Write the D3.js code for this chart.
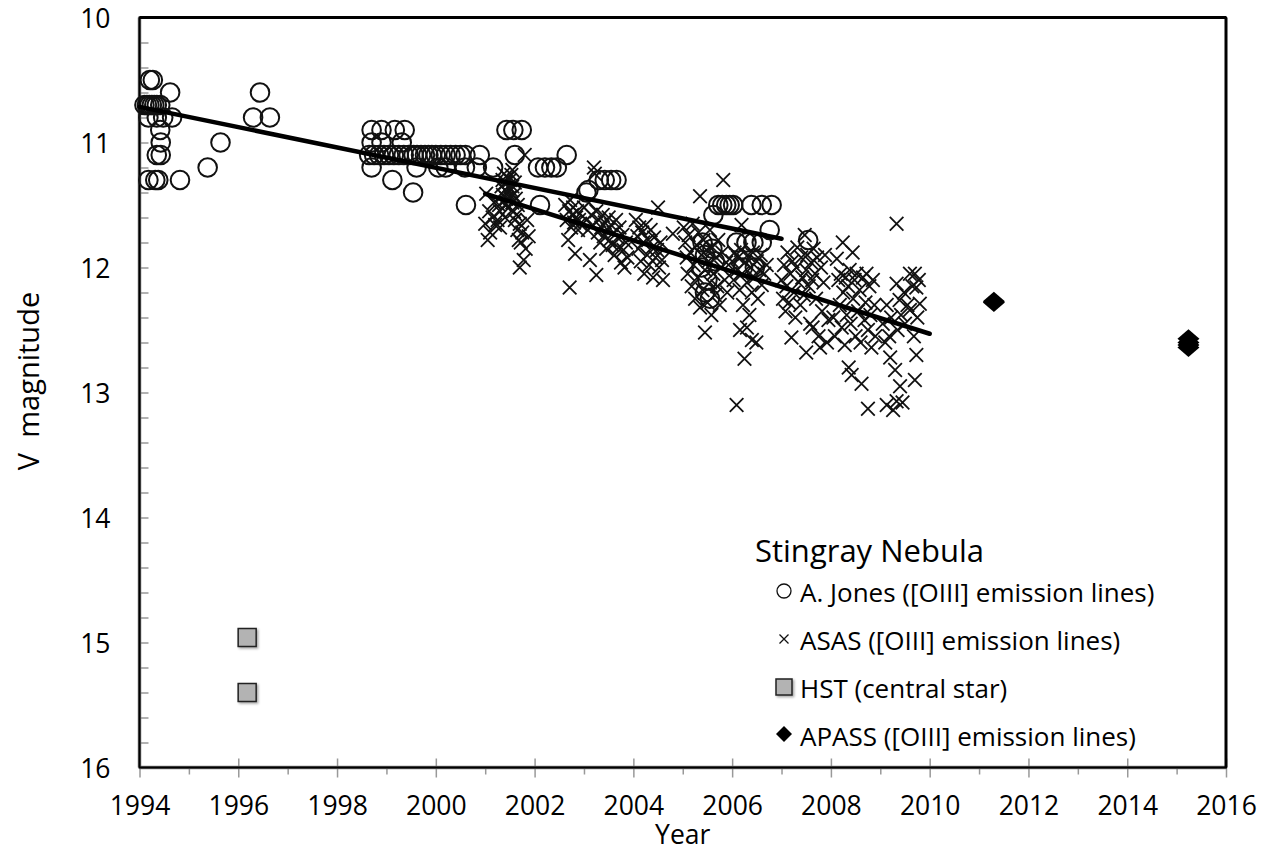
<!DOCTYPE html>
<html lang="en">

<head>
    <meta charset="utf-8">
    <title>Stingray Nebula</title>
    <script src="https://d3js.org/d3.v7.min.js"></script>
</head>
<style type="text/css">
    body {
        margin: 0;
        background: #fff;
    }

    svg text {
        font-family: "Open Sans", "Noto Sans", sans-serif;
        fill: #000;
    }

    .axis path {
        display: none;
    }

    .axis line {
        stroke: #999;
        stroke-width: 1.5px;
    }

    .axis text {
        font-size: 26.5px;
    }

    .jones {
        fill: none;
        stroke: #111;
        stroke-width: 2px;
    }

    .asas {
        stroke: #111;
        stroke-width: 1.8px;
        fill: none;
    }

    .hst {
        fill: #b3b3b3;
        stroke: #222;
        stroke-width: 1.5px;
    }

    .apass {
        fill: #000;
    }

    .trend {
        stroke: #000;
        stroke-width: 4.5px;
        stroke-linecap: round;
    }
</style>

<body>
    <script>
        // data: [year, V magnitude]
        var jonesData = [
            [1994.21, 10.50], [1994.27, 10.50],
            [1994.10, 10.70], [1994.15, 10.70], [1994.20, 10.70], [1994.25, 10.70], [1994.30, 10.70], [1994.35, 10.70], [1994.42, 10.70],
            [1994.62, 10.60],
            [1994.18, 10.80], [1994.35, 10.80], [1994.48, 10.80], [1994.66, 10.80],
            [1994.42, 10.90], [1994.43, 11.00], [1994.35, 11.10], [1994.43, 11.10],
            [1994.18, 11.30], [1994.32, 11.30], [1994.38, 11.30], [1994.82, 11.30],
            [1995.38, 11.20], [1995.64, 11.00],
            [1996.30, 10.80], [1996.44, 10.60], [1996.64, 10.80],
            [1998.70, 10.90], [1998.90, 10.90], [1999.17, 10.90], [1999.37, 10.90],
            [1998.70, 11.00], [1998.90, 11.00], [1999.31, 11.00],
            [1998.65, 11.10], [1998.75, 11.10], [1998.85, 11.10], [1998.95, 11.10], [1999.05, 11.10],
            [1999.15, 11.10], [1999.25, 11.10], [1999.35, 11.10], [1999.45, 11.10], [1999.55, 11.10],
            [1999.62, 11.10], [1999.70, 11.10], [1999.78, 11.10], [1999.85, 11.10], [1999.92, 11.10],
            [2000.00, 11.10], [2000.10, 11.10], [2000.20, 11.10], [2000.30, 11.10], [2000.40, 11.10],
            [2000.50, 11.10], [2000.60, 11.10], [2000.89, 11.10],
            [1998.70, 11.20], [1999.61, 11.20], [2000.05, 11.20], [2000.20, 11.20], [2000.59, 11.20],
            [2000.83, 11.20], [2001.16, 11.20],
            [1999.12, 11.30], [1999.54, 11.40], [2000.61, 11.50],
            [2001.43, 10.90], [2001.57, 10.90], [2001.74, 10.90],
            [2001.60, 11.10], [2002.65, 11.10],
            [2002.07, 11.20], [2002.21, 11.20], [2002.34, 11.20], [2002.45, 11.20],
            [2002.11, 11.50],
            [2003.05, 11.40], [2003.09, 11.38], [2003.30, 11.30], [2003.42, 11.30], [2003.55, 11.30], [2003.66, 11.30],
            [2005.40, 11.80], [2005.45, 11.90], [2005.38, 12.00], [2005.50, 12.10], [2005.45, 12.20],
            [2005.55, 12.25], [2005.60, 11.85], [2005.65, 11.95], [2005.62, 11.58],
            [2005.72, 11.50], [2005.80, 11.50], [2005.88, 11.50], [2005.95, 11.50], [2006.02, 11.50],
            [2006.39, 11.50], [2006.60, 11.50], [2006.80, 11.50],
            [2006.76, 11.70],
            [2006.09, 11.80], [2006.29, 11.80], [2006.43, 11.80], [2006.60, 11.80],
            [2006.22, 12.00], [2006.46, 12.00],
            [2007.54, 11.78]
        ];

        var asasData = [
            // 2001
            [2001.00, 11.65], [2001.02, 11.41], [2001.05, 11.78], [2001.08, 11.55], [2001.10, 11.72],
            [2001.15, 11.60], [2001.18, 11.48], [2001.20, 11.66], [2001.25, 11.62], [2001.28, 11.50],
            [2001.30, 11.68], [2001.33, 11.35], [2001.35, 11.30], [2001.36, 11.42], [2001.38, 11.25],
            [2001.40, 11.38], [2001.40, 11.50], [2001.42, 11.32], [2001.43, 11.45], [2001.45, 11.28],
            [2001.45, 11.40], [2001.47, 11.35], [2001.48, 11.52], [2001.50, 11.30], [2001.50, 11.44],
            [2001.52, 11.38], [2001.53, 11.26], [2001.55, 11.48], [2001.55, 11.35], [2001.57, 11.42],
            [2001.58, 11.55], [2001.60, 11.32], [2001.60, 11.62], [2001.62, 11.45], [2001.63, 11.58],
            [2001.65, 11.70], [2001.66, 11.50], [2001.68, 11.78], [2001.70, 11.65], [2001.70, 12.00],
            [2001.72, 11.80], [2001.75, 11.72], [2001.78, 11.94], [2001.80, 11.10], [2001.82, 11.85],
            [2001.85, 11.62], [2001.88, 11.75], [2001.55, 11.22], [2001.40, 11.60], [2001.30, 11.55],
            // 2002
            [2002.62, 11.50], [2002.65, 11.62], [2002.68, 11.78], [2002.70, 11.55], [2002.71, 12.16],
            [2002.72, 11.46], [2002.74, 11.68], [2002.76, 11.58], [2002.78, 11.52], [2002.80, 11.64],
            [2002.82, 11.89], [2002.84, 11.60], [2002.86, 11.55], [2002.88, 11.70], [2002.90, 11.62],
            [2002.92, 11.65],
            // 2003
            [2003.00, 11.52], [2003.05, 11.62], [2003.08, 11.70], [2003.10, 11.48], [2003.12, 11.94],
            [2003.15, 11.58], [2003.18, 11.66], [2003.20, 11.20], [2003.22, 11.25], [2003.25, 12.06],
            [2003.25, 11.55], [2003.28, 11.72], [2003.30, 11.62], [2003.33, 11.80], [2003.35, 11.68],
            [2003.38, 11.58], [2003.40, 11.75], [2003.42, 11.64], [2003.45, 11.85], [2003.48, 11.70],
            [2003.50, 11.60], [2003.52, 11.78], [2003.55, 11.66], [2003.58, 11.82], [2003.60, 11.72],
            [2003.62, 11.90], [2003.65, 11.62], [2003.68, 11.76], [2003.70, 11.84], [2003.72, 11.68],
            [2003.75, 11.96], [2003.78, 11.74], [2003.80, 11.86], [2003.82, 12.00], [2003.85, 11.80],
            [2003.88, 11.92],
            // 2004
            [2004.05, 11.62], [2004.08, 11.75], [2004.10, 11.85], [2004.12, 11.68], [2004.15, 11.95],
            [2004.18, 11.72], [2004.20, 11.80], [2004.22, 12.05], [2004.25, 11.66], [2004.28, 11.90],
            [2004.30, 11.78], [2004.32, 11.98], [2004.35, 11.70], [2004.38, 11.84], [2004.40, 12.08],
            [2004.42, 11.76], [2004.45, 11.92], [2004.48, 11.86], [2004.50, 11.52], [2004.52, 12.00],
            [2004.55, 11.80], [2004.58, 11.94], [2004.60, 12.10], [2004.80, 11.73],
            // 2005
            [2005.02, 11.68], [2005.05, 11.80], [2005.08, 11.92], [2005.10, 12.05], [2005.12, 11.74],
            [2005.15, 11.88], [2005.18, 12.15], [2005.20, 11.65], [2005.22, 11.98], [2005.25, 12.25],
            [2005.28, 11.82], [2005.30, 12.08], [2005.32, 11.72], [2005.35, 11.43], [2005.35, 12.32],
            [2005.38, 11.90], [2005.40, 12.18], [2005.42, 11.78], [2005.45, 12.52], [2005.45, 12.02],
            [2005.48, 11.86], [2005.50, 12.28], [2005.52, 11.95], [2005.55, 12.12], [2005.55, 11.70],
            [2005.58, 12.38], [2005.60, 11.84], [2005.62, 12.05], [2005.65, 12.22], [2005.68, 11.92],
            [2005.70, 12.15], [2005.72, 11.78], [2005.75, 12.30], [2005.78, 12.00], [2005.80, 11.88],
            [2005.82, 11.30], [2005.85, 12.10], [2005.88, 11.96], [2005.90, 12.20],
            // 2006
            [2006.00, 11.95], [2006.03, 12.10], [2006.05, 11.88], [2006.09, 13.10], [2006.10, 12.02],
            [2006.12, 11.92], [2006.15, 12.18], [2006.18, 11.86], [2006.19, 11.66], [2006.20, 12.05],
            [2006.22, 12.30], [2006.25, 12.73], [2006.26, 11.96], [2006.30, 12.12], [2006.32, 11.90],
            [2006.35, 12.38], [2006.38, 12.00], [2006.40, 12.20], [2006.42, 11.88], [2006.45, 12.08],
            [2006.49, 12.60], [2006.50, 11.95], [2006.52, 12.25], [2006.55, 12.02], [2006.58, 11.90],
            [2006.60, 12.14], [2006.65, 12.05], [2006.70, 11.98], [2006.16, 12.50], [2006.30, 12.48],
            [2006.40, 12.58],
            // 2007
            [2007.00, 12.10], [2007.03, 12.25], [2007.05, 11.98], [2007.08, 12.35], [2007.10, 12.15],
            [2007.12, 11.88], [2007.15, 12.28], [2007.18, 12.05], [2007.20, 12.56], [2007.22, 11.95],
            [2007.25, 12.20], [2007.28, 12.40], [2007.30, 12.00], [2007.32, 11.84], [2007.35, 12.12],
            [2007.38, 12.30], [2007.40, 11.92], [2007.42, 12.08], [2007.45, 12.22], [2007.47, 11.74],
            [2007.50, 12.68], [2007.50, 12.02], [2007.52, 11.90], [2007.55, 12.15], [2007.58, 12.45],
            [2007.60, 11.96], [2007.62, 12.10], [2007.63, 12.48], [2007.65, 11.85], [2007.68, 12.05],
            [2007.70, 12.25], [2007.72, 11.92], [2007.75, 12.55], [2007.78, 12.64], [2007.80, 12.00],
            [2007.82, 12.35], [2007.85, 12.12], [2007.88, 11.90], [2007.92, 12.60], [2007.95, 12.42],
            // 2008
            [2008.05, 12.40], [2008.08, 12.55], [2008.12, 11.93], [2008.15, 12.10], [2008.18, 12.30],
            [2008.20, 12.05], [2008.22, 12.48], [2008.24, 11.80], [2008.25, 12.20], [2008.28, 12.62],
            [2008.30, 12.08], [2008.32, 12.38], [2008.35, 12.15], [2008.36, 12.80], [2008.38, 12.02],
            [2008.40, 12.45], [2008.42, 12.86], [2008.44, 11.88], [2008.45, 12.25], [2008.48, 12.10],
            [2008.50, 12.55], [2008.52, 12.05], [2008.55, 12.35], [2008.58, 12.18], [2008.60, 12.60],
            [2008.62, 12.93], [2008.65, 12.08], [2008.68, 12.42], [2008.70, 12.28], [2008.72, 12.05],
            [2008.75, 13.13], [2008.75, 12.50], [2008.78, 12.15], [2008.80, 12.38], [2008.82, 12.64],
            [2008.85, 12.10], [2008.88, 12.30], [2008.90, 12.55],
            // 2009
            [2009.05, 12.45], [2009.10, 12.60], [2009.13, 12.30], [2009.13, 13.10], [2009.18, 12.55],
            [2009.20, 12.72], [2009.22, 12.40], [2009.26, 13.14], [2009.30, 12.82], [2009.33, 11.65],
            [2009.33, 12.13], [2009.33, 13.07], [2009.35, 12.50], [2009.39, 12.26], [2009.40, 12.95],
            [2009.42, 12.38], [2009.45, 13.08], [2009.48, 12.20], [2009.50, 12.45], [2009.55, 12.30],
            [2009.60, 12.05], [2009.60, 12.34], [2009.65, 12.15], [2009.68, 12.55], [2009.70, 12.05],
            [2009.70, 12.90], [2009.73, 12.16], [2009.73, 12.70], [2009.75, 12.40], [2009.78, 12.10],
            [2009.80, 12.29]
        ];

        var hstData = [
            [1996.18, 14.96],
            [1996.18, 15.40]
        ];

        var apassData = [
            [2011.30, 12.27], [2011.30, 12.28],
            [2015.24, 12.57], [2015.24, 12.60], [2015.24, 12.62], [2015.24, 12.64]
        ];

        // linear fits, drawn as straight segments [start, end]
        var jonesFit = [[1994.0, 10.715], [2007.0, 11.77]];
        var asasFit = [[2001.0, 11.41], [2010.0, 12.53]];

        var xTicks = [1994, 1996, 1998, 2000, 2002, 2004, 2006, 2008, 2010, 2012, 2014, 2016];
        var xMinorTicks = [1995, 1997, 1999, 2001, 2003, 2005, 2007, 2009, 2011, 2013, 2015];
        var yTicks = [10, 11, 12, 13, 14, 15, 16];

        var legendTitle = "Stingray Nebula";
        var legendLabels = [
            "A. Jones ([OIII] emission lines)",
            "ASAS ([OIII] emission lines)",
            "HST (central star)",
            "APASS ([OIII] emission lines)"
        ];

        var width = 1262,
            height = 852,
            margin = { top: 17.5, right: 36, bottom: 84.5, left: 139.5 },
            w = width - margin.left - margin.right,
            h = height - margin.top - margin.bottom;

        //Setting scales

        var x = d3.scaleLinear().domain([1994, 2016]).range([0, w]);
        var y = d3.scaleLinear().domain([10, 16]).range([0, h]);

        var svg = d3.select("body").append("svg")
            .attr("width", width)
            .attr("height", height);

        var defs = svg.append("defs");
        var shadow = defs.append("filter").attr("id", "shadow")
            .attr("x", "-30%").attr("y", "-30%").attr("width", "170%").attr("height", "170%");
        shadow.append("feDropShadow")
            .attr("dx", 1.5).attr("dy", 1.5).attr("stdDeviation", 1.2)
            .attr("flood-color", "#000").attr("flood-opacity", 0.35);

        var g = svg.append("g")
            .attr("transform", "translate(" + margin.left + "," + margin.top + ")");

        //Axes

        g.append("g").attr("class", "axis")
            .attr("transform", "translate(0," + h + ")")
            .call(d3.axisBottom(x).tickValues(xMinorTicks).tickSize(7).tickFormat(""));

        var xAxis = g.append("g").attr("class", "axis")
            .attr("transform", "translate(0," + h + ")")
            .call(d3.axisBottom(x).tickValues(xTicks).tickSize(10).tickPadding(19).tickFormat(d3.format("d")));
        xAxis.selectAll("line").attr("y1", -9);

        var yMinorTicks = d3.range(10, 16.01, 0.2).filter(function(v) {
            return Math.abs(v - Math.round(v)) > 0.01;
        });
        g.append("g").attr("class", "axis")
            .call(d3.axisRight(y).tickValues(yMinorTicks).tickSize(9).tickFormat(""));

        var yAxis = g.append("g").attr("class", "axis")
            .call(d3.axisLeft(y).tickValues(yTicks).tickSize(10).tickPadding(19).tickFormat(d3.format("d")));
        yAxis.selectAll("line").attr("x2", 9);
        yAxis.selectAll("text").attr("dy", "0.38em");

        // frame: grey/black axis lines on the left and bottom, black top and right
        g.append("line").attr("x1", 0).attr("x2", 0).attr("y1", 0).attr("y2", h)
            .attr("stroke", "#777").attr("stroke-width", 3.5);
        g.append("line").attr("x1", 0).attr("x2", w).attr("y1", h).attr("y2", h)
            .attr("stroke", "#777").attr("stroke-width", 3.5);
        g.append("rect").attr("x", 0).attr("y", 0).attr("width", w).attr("height", h)
            .attr("fill", "none").attr("stroke", "#000").attr("stroke-width", 2);
        g.append("line").attr("x1", 0).attr("x2", w).attr("y1", 0).attr("y2", 0)
            .attr("stroke", "#000").attr("stroke-width", 3);
        g.append("line").attr("x1", w).attr("x2", w).attr("y1", 0).attr("y2", h)
            .attr("stroke", "#000").attr("stroke-width", 3);

        //Axis titles

        svg.append("text")
            .attr("x", margin.left + x(2005))
            .attr("y", 844)
            .attr("text-anchor", "middle")
            .style("font-size", "26.5px")
            .text("Year");

        svg.append("text")
            .attr("transform", "translate(39," + 381 + ") rotate(-90)")
            .attr("text-anchor", "middle")
            .style("font-size", "29px")
            .text("V\u00a0 magnitude");

        //Markers

        var xPath = function(s) {
            return "M" + (-s) + "," + (-s) + "L" + s + "," + s + "M" + (-s) + "," + s + "L" + s + "," + (-s);
        };
        var diamondPath = function(sx, sy) {
            return "M0," + (-sy) + "L" + sx + ",0L0," + sy + "L" + (-sx) + ",0Z";
        };

        g.selectAll("circle.jones")
            .data(jonesData)
            .enter().append("circle")
            .attr("class", "jones")
            .attr("cx", function(d) { return x(d[0]); })
            .attr("cy", function(d) { return y(d[1]); })
            .attr("r", 9.3);

        g.selectAll("path.asas")
            .data(asasData)
            .enter().append("path")
            .attr("class", "asas")
            .attr("transform", function(d) { return "translate(" + x(d[0]) + "," + y(d[1]) + ")"; })
            .attr("d", xPath(6.8));

        g.selectAll("rect.hst")
            .data(hstData)
            .enter().append("rect")
            .attr("class", "hst")
            .attr("filter", "url(#shadow)")
            .attr("x", function(d) { return x(d[0]) - 9; })
            .attr("y", function(d) { return y(d[1]) - 9; })
            .attr("width", 18)
            .attr("height", 18);

        g.selectAll("path.apass")
            .data(apassData)
            .enter().append("path")
            .attr("class", "apass")
            .attr("transform", function(d) { return "translate(" + x(d[0]) + "," + y(d[1]) + ")"; })
            .attr("d", diamondPath(11, 9.5));

        //Trend lines

        [jonesFit, asasFit].forEach(function(fit) {
            g.append("line")
                .attr("class", "trend")
                .attr("x1", x(fit[0][0]))
                .attr("y1", y(fit[0][1]))
                .attr("x2", x(fit[1][0]))
                .attr("y2", y(fit[1][1]));
        });

        //Legend

        var legend = svg.append("g").attr("transform", "translate(755,0)");

        legend.append("text")
            .attr("x", 0)
            .attr("y", 562)
            .style("font-size", "31px")
            .text(legendTitle);

        var rowY = [593, 641, 689, 737];

        var rows = legend.selectAll("g.row")
            .data(legendLabels)
            .enter().append("g")
            .attr("class", "row")
            .attr("transform", function(d, i) { return "translate(0," + rowY[i] + ")"; });

        rows.append("text")
            .attr("x", 45)
            .attr("dy", "0.36em")
            .style("font-size", "26px")
            .text(function(d) { return d; });

        rows.each(function(d, i) {
            var r = d3.select(this);
            if (i === 0) {
                r.append("circle").attr("cx", 29).attr("cy", -2).attr("r", 7)
                    .attr("fill", "none").attr("stroke", "#111").attr("stroke-width", 1.3);
            } else if (i === 1) {
                r.append("path").attr("transform", "translate(29,-2)").attr("d", xPath(4.5))
                    .attr("stroke", "#111").attr("stroke-width", 1.3);
            } else if (i === 2) {
                r.append("rect").attr("class", "hst").attr("x", 21).attr("y", -10)
                    .attr("width", 16).attr("height", 16).attr("filter", "url(#shadow)");
            } else {
                r.append("path").attr("class", "apass").attr("transform", "translate(29,-3)")
                    .attr("d", diamondPath(8, 8));
            }
        });
    </script>
</body>

</html>
